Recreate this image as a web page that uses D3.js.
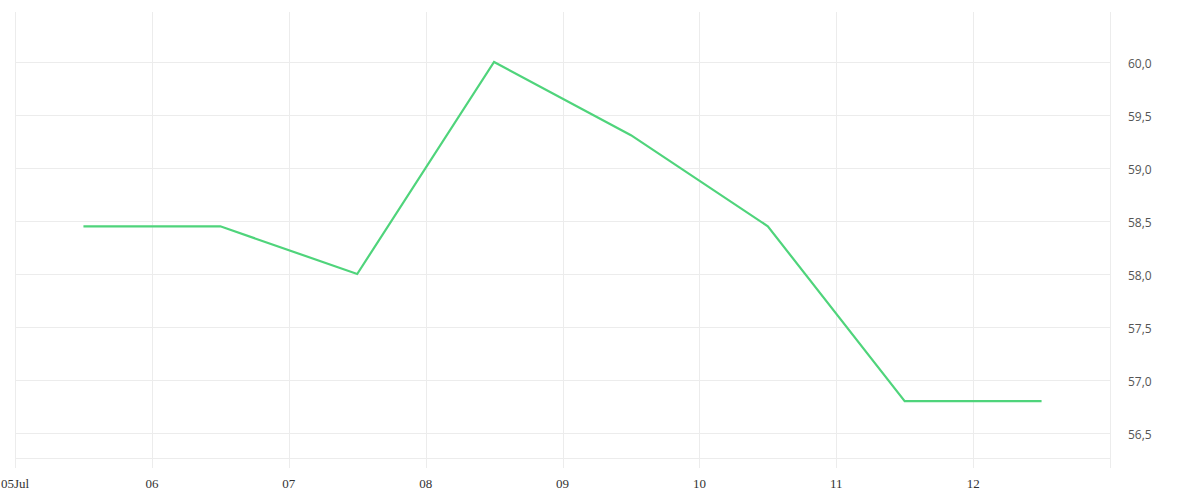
<!DOCTYPE html>
<html><head><meta charset="utf-8">
<script src="https://cdn.jsdelivr.net/npm/d3@7"></script>
<style>body{margin:0;background:#fff}svg{display:block}</style>
</head><body><svg id="c" width="1200" height="500"></svg>
<script>
const dates = ["2024-07-05T12:00","2024-07-06T12:00","2024-07-07T12:00","2024-07-08T12:00","2024-07-09T12:00","2024-07-10T12:00","2024-07-11T12:00","2024-07-12T12:00"];
const values = [58.45, 58.45, 58.0, 60.0, 59.31, 58.45, 56.8, 56.8];
const xTickLabels = ["05Jul","06","07","08","09","10","11","12"];
const yTicks = [56.5, 57.0, 57.5, 58.0, 58.5, 59.0, 59.5, 60.0];

(function(){
const svg = d3.select("#c");
const mL = 15, mR = 1110, mT = 12, mB = 458;
const parse = d3.timeParse("%Y-%m-%dT%H:%M");
const x = d3.scaleTime().domain([new Date(2024,6,5), new Date(2024,6,13)]).range([mL, mR]);
const y = d3.scaleLinear().domain([56.264, 60.472]).range([mB, mT]);
const grid = "#ececec";

const xTickDates = d3.range(5, 13).map(d => new Date(2024,6,d));
svg.append("g").selectAll("line").data(xTickDates.concat([new Date(2024,6,13)])).join("line")
  .attr("x1", d => Math.round(x(d))+0.5).attr("x2", d => Math.round(x(d))+0.5)
  .attr("y1", mT).attr("y2", 468).attr("stroke", grid);
svg.append("g").selectAll("line").data(yTicks).join("line")
  .attr("x1", mL).attr("x2", mR)
  .attr("y1", d => Math.round(y(d))+0.5).attr("y2", d => Math.round(y(d))+0.5).attr("stroke", grid);
svg.append("line").attr("x1", mL).attr("x2", mR).attr("y1", mB+0.5).attr("y2", mB+0.5).attr("stroke", grid);

svg.append("g").selectAll("text").data(xTickDates).join("text")
  .attr("x", d => x(d)).attr("y", 488).attr("text-anchor", "middle")
  .attr("font-family", "'Liberation Serif','DejaVu Serif',serif").attr("font-size", 13).attr("fill", "#333")
  .text((d,i) => xTickLabels[i]);
const fmt = v => v.toFixed(1).replace(".", ",");
svg.append("g").selectAll("text").data(yTicks).join("text")
  .attr("x", 1128).attr("y", d => y(d) + 2).attr("dy", "0.35em")
  .attr("font-family", "'Open Sans','Noto Sans',sans-serif").attr("font-size", 12).attr("fill", "#555")
  .text(fmt);

const data = dates.map((d,i) => ({d: parse(d), v: values[i]}));
svg.append("path").datum(data)
  .attr("fill", "none").attr("stroke", "#4fd47b").attr("stroke-width", 2.2)
  .attr("d", d3.line().x(p => x(p.d)).y(p => y(p.v)));
})();
</script></body></html>
